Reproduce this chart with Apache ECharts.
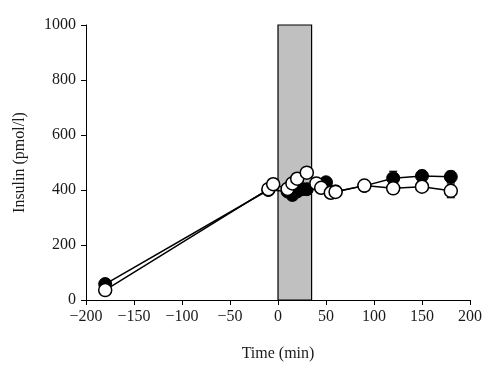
<!DOCTYPE html>
<html><head><meta charset="utf-8">
<script src="https://cdn.jsdelivr.net/npm/echarts@6/dist/echarts.min.js"></script>
<style>html,body{margin:0;padding:0;background:#fff}#c{width:500px;height:370px}</style>
</head><body><div id="c"></div>
<script>
var xTicks = [-200, -150, -100, -50, 0, 50, 100, 150, 200];
var yTicks = [0, 200, 400, 600, 800, 1000];
var shadeRange = [0, 35];

var timeFilled = [-180, -10, 10, 15, 20, 25, 30, 50, 60, 90, 120, 150, 180];
var insulinFilled = [58, 400, 395, 382, 395, 403, 403, 428, 395, 415, 443, 451, 448];
var errFilled = [8, 12, 12, 12, 12, 12, 12, 15, 12, 15, 25, 20, 20];

var timeOpen = [-180, -10, -5, 10, 15, 20, 30, 40, 45, 55, 60, 90, 120, 150, 180];
var insulinOpen = [36, 403, 421, 404, 424, 441, 463, 424, 408, 390, 393, 416, 406, 412, 397];
var errOpen = [6, 12, 12, 12, 12, 12, 12, 12, 12, 18, 20, 15, 15, 15, 25];

function pairs(xs, ys) { return xs.map(function (x, i) { return [x, ys[i]]; }); }
function errData(xs, ys, es) { return xs.map(function (x, i) { return [x, ys[i] - es[i], ys[i] + es[i]]; }); }

function errRender(params, api) {
  var x = api.value(0);
  var lo = api.coord([x, api.value(1)]);
  var hi = api.coord([x, api.value(2)]);
  var w = 4;
  var st = { stroke: '#000', lineWidth: 1.2 };
  return { type: 'group', children: [
    { type: 'line', shape: { x1: lo[0], y1: lo[1], x2: hi[0], y2: hi[1] }, style: st },
    { type: 'line', shape: { x1: lo[0] - w, y1: lo[1], x2: lo[0] + w, y2: lo[1] }, style: st },
    { type: 'line', shape: { x1: hi[0] - w, y1: hi[1], x2: hi[0] + w, y2: hi[1] }, style: st }
  ]};
}

var font = 'Liberation Serif';
var chart = echarts.init(document.getElementById('c'), null, { renderer: 'canvas' });
chart.setOption({
  animation: false,
  backgroundColor: '#fff',
  grid: { left: 86, right: 30, top: 25, bottom: 70 },
  xAxis: {
    type: 'value', min: xTicks[0], max: xTicks[xTicks.length - 1], interval: 50,
    name: 'Time (min)', nameLocation: 'middle', nameGap: 46,
    nameTextStyle: { fontFamily: font, fontSize: 16, color: '#1a1a1a' },
    axisLine: { onZero: false, lineStyle: { color: '#000', width: 1 } },
    axisTick: { show: true, length: 5, lineStyle: { color: '#000' } },
    axisLabel: { fontFamily: font, fontSize: 16, color: '#1a1a1a', margin: 9,
      formatter: function (v) { return v < 0 ? '\u2212' + Math.abs(v) : String(v); } },
    splitLine: { show: false }
  },
  yAxis: {
    type: 'value', min: yTicks[0], max: yTicks[yTicks.length - 1], interval: 200,
    name: 'Insulin (pmol/l)', nameLocation: 'middle', nameGap: 58,
    nameTextStyle: { fontFamily: font, fontSize: 16, color: '#1a1a1a' },
    axisLine: { show: true, onZero: false, lineStyle: { color: '#000', width: 1 } },
    axisTick: { show: true, length: 5, lineStyle: { color: '#000' } },
    axisLabel: { fontFamily: font, fontSize: 16, color: '#1a1a1a', margin: 10,
      formatter: function (v) { return String(v); } },
    splitLine: { show: false }
  },
  series: [
    {
      type: 'line', data: [], silent: true,
      markArea: {
        silent: true,
        itemStyle: { color: '#c0c0c0', borderColor: '#000', borderWidth: 1.2 },
        data: [[{ coord: [shadeRange[0], yTicks[0]] }, { coord: [shadeRange[1], yTicks[yTicks.length - 1]] }]]
      }
    },
    {
      type: 'custom', renderItem: errRender, data: errData(timeFilled, insulinFilled, errFilled),
      encode: { x: 0, y: [1, 2] }, z: 3
    },
    {
      type: 'line', data: pairs(timeFilled, insulinFilled), symbol: 'circle', symbolSize: 13,
      lineStyle: { color: '#000', width: 1.5 }, itemStyle: { color: '#000', borderColor: '#000', borderWidth: 1 },
      z: 4
    },
    {
      type: 'custom', renderItem: errRender, data: errData(timeOpen, insulinOpen, errOpen),
      encode: { x: 0, y: [1, 2] }, z: 5
    },
    {
      type: 'line', data: pairs(timeOpen, insulinOpen), symbol: 'circle', symbolSize: 13,
      lineStyle: { color: '#000', width: 1.5 }, itemStyle: { color: '#fff', borderColor: '#000', borderWidth: 1.5 },
      z: 6
    }
  ]
});
</script></body></html>
